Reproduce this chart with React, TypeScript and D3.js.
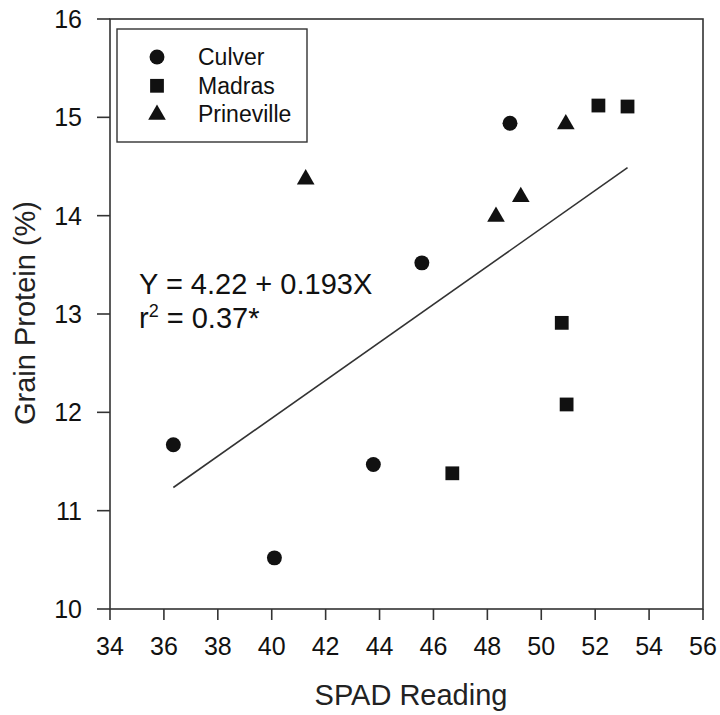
import React from "react";
import * as d3 from "d3";

const culverX = [36.35, 40.1, 43.77, 45.57, 48.84];
const culverY = [11.67, 10.52, 11.47, 13.52, 14.94];
const madrasX = [46.7, 50.76, 50.94, 52.12, 53.2];
const madrasY = [11.38, 12.91, 12.08, 15.12, 15.11];
const prinevilleX = [41.26, 48.32, 49.24, 50.91];
const prinevilleY = [14.37, 13.99, 14.19, 14.93];
const xTicks = [34, 36, 38, 40, 42, 44, 46, 48, 50, 52, 54, 56];
const yTicks = [10, 11, 12, 13, 14, 15, 16];
const regIntercept = 4.22;
const regSlope = 0.193;
const regRange = [36.35, 53.2];
const legendLabels = ["Culver", "Madras", "Prineville"];

const W = 720, H = 715;
const L = 110, R = 703, T = 19, B = 609;
const FONT = "'Liberation Sans', Arial, sans-serif";

export default function App() {
  const x = d3.scaleLinear().domain([34, 56]).range([L, R]);
  const y = d3.scaleLinear().domain([10, 16]).range([B, T]);
  const line = d3.line<number>().x((d) => x(d)).y((d) => y(regIntercept + regSlope * d));
  const sym = (type: d3.SymbolType, size: number) => d3.symbol().type(type).size(size)()!;
  const circle = sym(d3.symbolCircle, 175);
  const square = sym(d3.symbolSquare, 190);
  const tri = sym(d3.symbolTriangle, 135);
  const ink = "#111";
  const legendRows = [circle, square, tri];

  return (
    <svg width={W} height={H} style={{ position: "absolute", left: 0, top: 0, background: "#fff" }} fontFamily={FONT}>
      <rect x={0} y={0} width={W} height={H} fill="#fff" />
      <rect x={L} y={T} width={R - L} height={B - T} fill="none" stroke="#333" strokeWidth={1.6} />
      {yTicks.map((t) => (
        <g key={"y" + t}>
          <line x1={L - 13} x2={L} y1={y(t)} y2={y(t)} stroke="#333" strokeWidth={1.6} />
          <text x={82} y={y(t)} dy="0.36em" textAnchor="end" fontSize={25} fill={ink}>{t}</text>
        </g>
      ))}
      {xTicks.map((t) => (
        <g key={"x" + t}>
          <line x1={x(t)} x2={x(t)} y1={B} y2={B + 11} stroke="#333" strokeWidth={1.6} />
          <text x={x(t)} y={655} textAnchor="middle" fontSize={25} fill={ink}>{t}</text>
        </g>
      ))}
      <text x={411} y={705} textAnchor="middle" fontSize={29} fill="#222">SPAD Reading</text>
      <text transform={`translate(35,313) rotate(-90)`} textAnchor="middle" fontSize={29} fill="#222">Grain Protein (%)</text>

      <path d={line(regRange) || ""} fill="none" stroke="#333" strokeWidth={1.6} />

      {culverX.map((v, i) => (
        <path key={"c" + i} d={circle} transform={`translate(${x(v)},${y(culverY[i])})`} fill={ink} />
      ))}
      {madrasX.map((v, i) => (
        <path key={"m" + i} d={square} transform={`translate(${x(v)},${y(madrasY[i])})`} fill={ink} />
      ))}
      {prinevilleX.map((v, i) => (
        <path key={"p" + i} d={tri} transform={`translate(${x(v)},${y(prinevilleY[i])})`} fill={ink} />
      ))}

      <text x={139} y={294} fontSize={29} fill={ink}>Y = 4.22 + 0.193X</text>
      <text x={139} y={328} fontSize={29} fill={ink}>
        r<tspan dy={-11} fontSize={18}>2</tspan><tspan dy={11}> = 0.37*</tspan>
      </text>

      <rect x={117} y={29} width={190} height={113} fill="#fff" stroke="#333" strokeWidth={1.4} />
      {legendLabels.map((lab, i) => (
        <g key={lab}>
          <path d={legendRows[i]} transform={`translate(157,${57 + i * 28.8})`} fill={ink} />
          <text x={198} y={65 + i * 28.6} fontSize={23} fill={ink}>{lab}</text>
        </g>
      ))}
    </svg>
  );
}
